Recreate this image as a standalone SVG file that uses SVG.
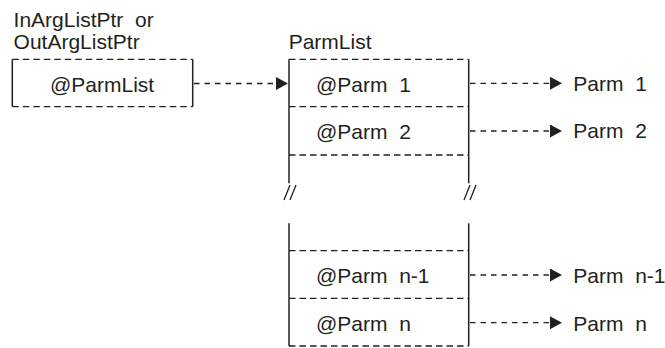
<svg xmlns="http://www.w3.org/2000/svg" width="665" height="348" viewBox="0 0 665 348">
  <style>
    text { font-family: "Liberation Sans", Arial, sans-serif; font-size: 21px; fill: #231f20; }
    .solid { stroke: #231f20; stroke-width: 1.5; fill: none; }
    .dash { stroke: #231f20; stroke-width: 1.3; fill: none; stroke-dasharray: 6.5 4; }
    .conn { stroke: #231f20; stroke-width: 1.3; fill: none; stroke-dasharray: 5.5 5; }
    .brk { stroke: #231f20; stroke-width: 1.3; fill: none; }
  </style>
  <defs>
    <marker id="arrow" viewBox="0 0 12 13" refX="12" refY="6.5" markerWidth="12" markerHeight="13" markerUnits="userSpaceOnUse" orient="auto">
      <path d="M0,0 L12,6.5 L0,13 Z" fill="#231f20"/>
    </marker>
  </defs>

  <!-- pointer cell -->
  <g id="arg-list-ptr">
    <text x="13.6" y="27.3" xml:space="preserve">InArgListPtr  or</text>
    <text x="13.6" y="48.7">OutArgListPtr</text>
    <line class="dash" x1="12.3" y1="59.3" x2="192.7" y2="59.3"/>
    <line class="dash" x1="12.3" y1="106.7" x2="192.7" y2="106.7"/>
    <line class="solid" x1="12.3" y1="59.3" x2="12.3" y2="106.7"/>
    <line class="solid" x1="192.7" y1="59.3" x2="192.7" y2="106.7"/>
    <text x="50" y="91.7">@ParmList</text>
  </g>

  <!-- parameter list: first entries -->
  <g id="parm-list">
    <text x="288.7" y="48.7">ParmList</text>
    <line class="dash" x1="289" y1="59.3" x2="468.7" y2="59.3"/>
    <line class="dash" x1="289" y1="106.7" x2="468.7" y2="106.7"/>
    <line class="dash" x1="289" y1="155" x2="468.7" y2="155"/>
    <line class="solid" x1="289" y1="59.3" x2="289" y2="183.3"/>
    <line class="solid" x1="468.7" y1="59.3" x2="468.7" y2="183.3"/>
    <text x="316" y="91.7" xml:space="preserve">@Parm  1</text>
    <text x="316" y="139.3" xml:space="preserve">@Parm  2</text>
    <!-- break marks -->
    <path class="brk" d="M284,200 L290,185 M290,200 L296,185"/>
    <path class="brk" d="M464,200 L470,185 M470,200 L476,185"/>
    <!-- last entries -->
    <line class="solid" x1="289" y1="223.3" x2="289" y2="346"/>
    <line class="solid" x1="468.7" y1="223.3" x2="468.7" y2="346"/>
    <line class="dash" x1="289" y1="250.7" x2="468.7" y2="250.7"/>
    <line class="dash" x1="289" y1="298.3" x2="468.7" y2="298.3"/>
    <line class="dash" x1="289" y1="346" x2="468.7" y2="346"/>
    <text x="316" y="283.3" xml:space="preserve">@Parm  n-1</text>
    <text x="316" y="330.7" xml:space="preserve">@Parm  n</text>
  </g>

  <g id="parm-1"><text x="573.3" y="90.7" xml:space="preserve">Parm  1</text></g>
  <g id="parm-2"><text x="573.3" y="138.3" xml:space="preserve">Parm  2</text></g>
  <g id="parm-n-1"><text x="573.3" y="282.7" xml:space="preserve">Parm  n-1</text></g>
  <g id="parm-n"><text x="573.3" y="330.7" xml:space="preserve">Parm  n</text></g>

  <g id="connectors">
    <line class="conn" x1="194" y1="83.5" x2="288" y2="83.5" marker-end="url(#arrow)"/>
    <line class="conn" x1="470" y1="83.3" x2="562" y2="83.3" marker-end="url(#arrow)"/>
    <line class="conn" x1="470" y1="131" x2="562" y2="131" marker-end="url(#arrow)"/>
    <line class="conn" x1="470" y1="275" x2="562" y2="275" marker-end="url(#arrow)"/>
    <line class="conn" x1="470" y1="322.7" x2="562" y2="322.7" marker-end="url(#arrow)"/>
  </g>
</svg>
